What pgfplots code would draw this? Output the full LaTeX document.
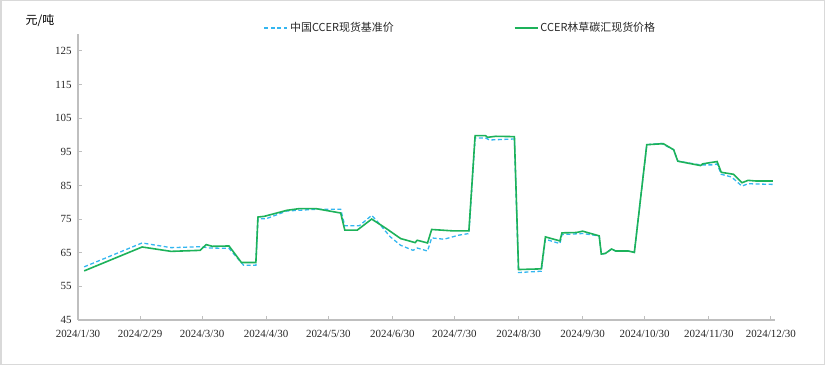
\documentclass[border=0pt]{standalone}
\usepackage{pgfplots}
\pgfplotsset{compat=1.18}
\usepackage{fontspec}
\setmainfont{Liberation Serif}
\newfontfamily\cjk{Noto Sans CJK SC}
\definecolor{cblue}{HTML}{33B6F0}
\definecolor{cgreen}{HTML}{1DB25A}
\definecolor{axgray}{HTML}{BFBFBF}
\begin{document}
\begin{tikzpicture}
\draw[draw=black!15, line width=1.5bp] (0.75bp,0.75bp) rectangle (824.25bp,364.25bp);
\node[font=\cjk\fontsize{12}{14}\selectfont, anchor=center] at (40bp,344bp) {元/吨};
\begin{axis}[
  at={(78bp,45bp)}, anchor=south west, scale only axis,
  width=697bp, height=286bp,
  xmin=0, xmax=337, ymin=45, ymax=130,
  ytick={45,55,...,125},
  xtick={0,30,60,91,121,152,182,213,244,274,305,335},
  xticklabels={2024/1/30,2024/2/29,2024/3/30,2024/4/30,2024/5/30,2024/6/30,2024/7/30,2024/8/30,2024/9/30,2024/10/30,2024/11/30,2024/12/30},
  axis x line*=bottom, axis y line*=left,
  axis line style={draw=axgray, line width=1.2bp, -},
  tick style={draw=axgray, line width=0.8bp},
  major tick length=4bp,
  tick align=inside,
  ticklabel style={font=\fontsize{11}{13}\selectfont, text=black!85},
  xticklabel style={yshift=-7bp},
  yticklabel style={xshift=-3bp},
  /pgf/number format/assume math mode=true,
  legend columns=2,
  legend style={at={(0.262,1.021)}, anchor=west, draw=none, fill=none,
    font=\cjk\fontsize{11}{13}\selectfont, text=black!85,
    /tikz/every even column/.append style={column sep=118bp}},
  legend image code/.code={\draw[#1] (0bp,0bp) -- (23bp,0bp);},
]
\addplot[cblue, line width=1.3bp, dash pattern=on 4bp off 2.5bp] coordinates {
(3,60.8) (31,67.9) (45,66.5) (60,66.8) (63,66.4) (73,66.3) (80,61.3) (86,61.3)
(87,75.1) (91,75.1) (101,77.4) (115,77.9) (127,77.9) (129,73.0) (136,73.0)
(142,76.1) (145,74.1) (151,69.7) (156,67.2) (162,65.7) (164,66.4) (169,65.5)
(171,69.4) (177,69.0) (184,70.2) (189,70.7) (192,99.1) (197,99.1) (199,98.5)
(211,98.8) (213,59.1) (224,59.5) (226,69.0) (233,67.7) (234,70.4) (244,70.7)
(252,70.0) (253,64.6) (255,64.8) (258,66.1) (260,65.5) (266,65.5) (269,65.1)
(275,97.1) (282,97.5) (288,95.6) (290,92.2) (301,91.1) (307,91.1) (309,91.4)
(311,88.3) (316,87.5) (321,84.8) (324,85.5) (336,85.3)
};
\addlegendentry{中国CCER现货基准价}
\addplot[cgreen, line width=1.6bp] coordinates {
(3,59.6) (31,66.7) (45,65.4) (59,65.7) (62,67.4) (65,66.9) (73,67.0) (79,62.1)
(86,62.1) (87,75.6) (90,75.8) (101,77.6) (107,78.1) (115,78.1) (127,76.8)
(129,71.7) (135,71.7) (142,75.0) (149,72.2) (156,69.2) (163,68.0) (164,68.7)
(169,67.9) (171,71.9) (181,71.5) (189,71.5) (192,99.8) (197,99.8) (198,99.3)
(202,99.6) (211,99.5) (213,60.0) (224,60.2) (226,69.7) (233,68.5) (234,70.9)
(241,71.0) (244,71.4) (252,70.0) (253,64.6) (255,64.8) (258,66.1) (260,65.5)
(266,65.5) (269,65.1) (275,97.1) (283,97.4) (288,95.6) (290,92.2) (301,90.9)
(302,91.4) (309,92.1) (311,88.9) (317,88.3) (321,85.8) (324,86.5) (328,86.3)
(336,86.3)
};
\addlegendentry{CCER林草碳汇现货价格}
\end{axis}
\end{tikzpicture}
\end{document}
